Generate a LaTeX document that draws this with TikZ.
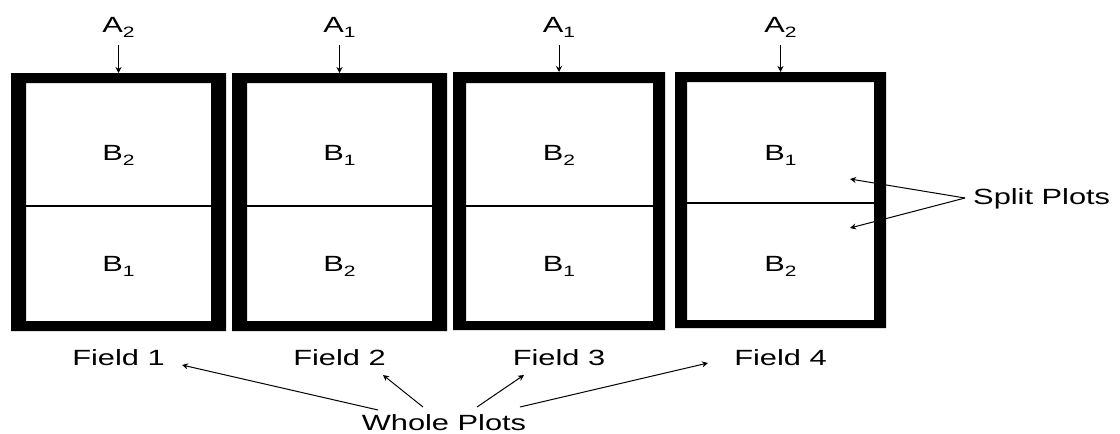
\documentclass[tikz,border=0pt]{standalone}
\usepackage{fontspec}
\setmainfont{Liberation Sans}[FakeStretch=1.4]
\usetikzlibrary{arrows.meta}
\newcommand\mysub[1]{\raisebox{-5pt}{\fontsize{15}{15}\selectfont #1}}
\begin{document}
\begin{tikzpicture}[x=1pt,y=-1pt,
  lbl/.style={font=\fontsize{22}{24}\selectfont, inner sep=0pt, anchor=base},
  arr/.style={-{Stealth[length=6pt,width=6pt]}, line width=1pt},
  frame/.style={fill=black, even odd rule},
  divider/.style={line width=1.6pt}]
\useasboundingbox[fill=white] (0,0) rectangle (1120,434);

% frames
\fill[frame] (11,73) rectangle (226,331) (26,83) rectangle (211,321);
\fill[frame] (232,73) rectangle (447,331) (247,83) rectangle (432,321);
\fill[frame] (453,72) rectangle (665,330) (466,83) rectangle (653,321);
\fill[frame] (675,72) rectangle (886,328) (687,82) rectangle (874,320);

% dividers
\draw[divider] (26,206) -- (211,206);
\draw[divider] (247,206) -- (432,206);
\draw[divider] (466,206) -- (653,206);
\draw[divider] (687,203) -- (874,203);

% frame top centres
\coordinate (t1) at (118.5,73);
\coordinate (t2) at (339.5,73);
\coordinate (t3) at (559,72);
\coordinate (t4) at (780.5,72);

% A labels
\node[lbl] (a1) at (118.5,32) {A\mysub{2}};
\node[lbl] (a2) at (339.5,32) {A\mysub{1}};
\node[lbl] (a3) at (559,32) {A\mysub{1}};
\node[lbl] (a4) at (780.5,32) {A\mysub{2}};
\draw[arr, shorten <=8pt] (a1.south) -- (t1);
\draw[arr, shorten <=8pt] (a2.south) -- (t2);
\draw[arr, shorten <=8pt] (a3.south) -- (t3);
\draw[arr, shorten <=8pt] (a4.south) -- (t4);

% B labels
\node[lbl] (b1u) at (118.5,160) {B\mysub{2}};
\node[lbl] (b1l) at (118.5,271) {B\mysub{1}};
\node[lbl] (b2u) at (339.5,160) {B\mysub{1}};
\node[lbl] (b2l) at (339.5,271) {B\mysub{2}};
\node[lbl] (b3u) at (559,160) {B\mysub{2}};
\node[lbl] (b3l) at (559,271) {B\mysub{1}};
\node[lbl] (b4u) at (780.5,160) {B\mysub{1}};
\node[lbl] (b4l) at (780.5,271) {B\mysub{2}};

% Field labels
\node[lbl] (f1) at (118.5,365) {Field 1};
\node[lbl] (f2) at (339.5,365) {Field 2};
\node[lbl] (f3) at (559,365) {Field 3};
\node[lbl] (f4) at (780.5,365) {Field 4};

% Whole plots
\node[lbl] (wp) at (444,430) {Whole Plots};
\coordinate (w1) at (378,410);
\coordinate (w2) at (423,407);
\coordinate (w3) at (477,407);
\coordinate (w4) at (520,407);
\coordinate (p1) at (182,365);
\coordinate (p2) at (383,375);
\coordinate (p3) at (524,375);
\coordinate (p4) at (708,363);
\draw[arr] (w1) -- (p1);
\draw[arr] (w2) -- (p2);
\draw[arr] (w3) -- (p3);
\draw[arr] (w4) -- (p4);

% Split plots
\node[lbl, anchor=base west] (sp) at (973,204) {Split Plots};
\coordinate (s0) at (965,198);
\coordinate (s1) at (850,179);
\coordinate (s2) at (850,228);
\draw[arr] (s0) -- (s1);
\draw[arr] (s0) -- (s2);
\end{tikzpicture}
\end{document}
